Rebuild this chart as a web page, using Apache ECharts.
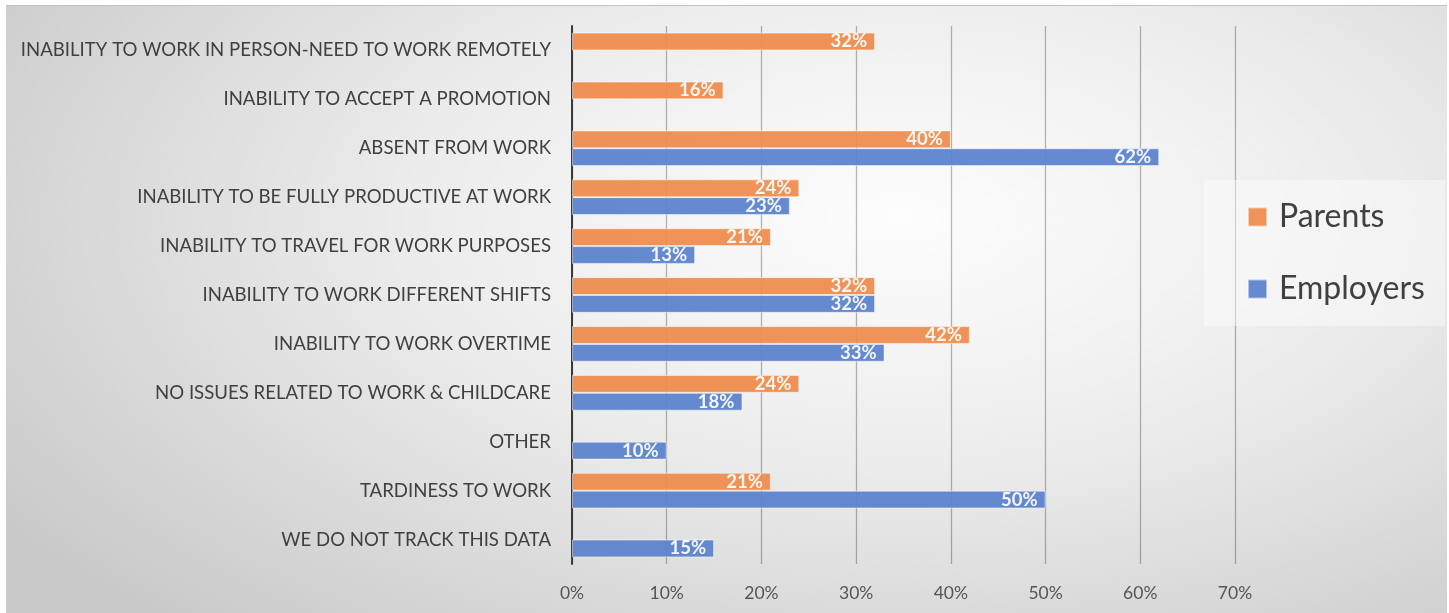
<!DOCTYPE html>
<html>
<head>
<meta charset="utf-8">
<script src="https://cdn.jsdelivr.net/npm/echarts@6/dist/echarts.min.js"></script>
<style>
  html, body { margin: 0; padding: 0; background: #ffffff; }
  #panel {
    position: absolute; left: 6px; top: 5px; width: 1441px; height: 608px;
    border-top: 1px solid #c2c2c2;
    background: radial-gradient(ellipse 75% 90% at 62% 35%, #fdfdfd 0%, #ececec 45%, #c9c9c9 100%);
  }
  #chart { position: absolute; left: 0; top: 0; width: 1449px; height: 613px; }
</style>
</head>
<body>
<div id="panel"></div>
<div id="chart"></div>
<script>
// Work issues caused by childcare, as reported by parents and by employers (percent)
const categories = [
  'INABILITY TO WORK IN PERSON-NEED TO WORK REMOTELY',
  'INABILITY TO ACCEPT A PROMOTION',
  'ABSENT FROM WORK',
  'INABILITY TO BE FULLY PRODUCTIVE AT WORK',
  'INABILITY TO TRAVEL FOR WORK PURPOSES',
  'INABILITY TO WORK DIFFERENT SHIFTS',
  'INABILITY TO WORK OVERTIME',
  'NO ISSUES RELATED TO WORK & CHILDCARE',
  'OTHER',
  'TARDINESS TO WORK',
  'WE DO NOT TRACK THIS DATA'
];
const parents   = [32, 16, 40, 24, 21, 32, 42, 24, null, 21, null];
const employers = [null, null, 62, 23, 13, 32, 33, 18, 10, 50, 15];
const xTicks = [0, 10, 20, 30, 40, 50, 60, 70];

const FONT = 'Lato, "Open Sans", sans-serif';

const chart = echarts.init(document.getElementById('chart'), null, { renderer: 'canvas' });

function barSeries(name, data, color) {
  return {
    name: name,
    type: 'bar',
    data: data,
    barGap: '0%',
    barCategoryGap: '27%',
    itemStyle: {
      color: color,
      opacity: 0.92,
      borderColor: 'rgba(255,255,255,0.55)',
      borderWidth: 1
    },
    label: {
      show: true,
      position: 'insideRight',
      distance: 8,
      formatter: p => p.value + '%',
      color: '#ffffff',
      fontFamily: FONT,
      fontWeight: 'bold',
      fontSize: 18.5
    },
    emphasis: { disabled: true }
  };
}

chart.setOption({
  animation: false,
  backgroundColor: 'transparent',
  textStyle: { fontFamily: FONT },
  grid: { left: 572, right: 214, top: 26, bottom: 49, containLabel: false },
  legend: {
    orient: 'vertical',
    left: 1204,
    top: 180,
    padding: [21, 20, 21, 43],
    backgroundColor: 'rgba(255,255,255,0.4)',
    itemWidth: 19,
    itemHeight: 19,
    itemGap: 40,
    icon: 'rect',
    textStyle: { fontSize: 32, color: '#404040', fontFamily: FONT, padding: [0, 0, 0, 7] },
    data: ['Parents', 'Employers']
  },
  xAxis: {
    type: 'value',
    min: 0,
    max: 70,
    interval: 10,
    axisLine: { show: false },
    axisTick: { show: false },
    splitLine: { show: true, lineStyle: { color: 'rgba(0,0,0,0.28)', width: 1.3 } },
    axisLabel: {
      fontSize: 17.5,
      color: '#555555',
      margin: 20,
      formatter: v => (xTicks.indexOf(v) >= 0 ? v + '%' : '')
    }
  },
  yAxis: {
    type: 'category',
    data: categories,
    inverse: true,
    axisLine: { show: true, lineStyle: { color: '#3a3a3a', width: 2 } },
    axisTick: { show: false },
    axisLabel: { fontSize: 18.6, color: '#404040', margin: 21 }
  },
  series: [
    barSeries('Parents', parents, '#ee8a4b'),
    barSeries('Employers', employers, '#5880cc')
  ]
});
</script>
</body>
</html>
